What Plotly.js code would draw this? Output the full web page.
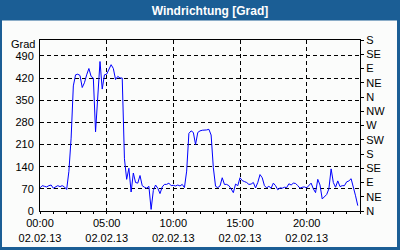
<!DOCTYPE html>
<html>
<head>
<meta charset="utf-8">
<script src="https://cdn.plot.ly/plotly-3.0.1.min.js"></script>
<style>html,body{margin:0;padding:0;background:#1b5e95;}#chart{width:400px;height:250px;}</style>
</head>
<body>
<div id="chart"></div>
<script>
// Wind direction (degrees), 10-minute samples from 02.02.13 00:00
const startTime = '2013-02-02 00:00';
const stepMinutes = 10;
const windDirection = [
  73, 80, 78, 76, 80, 82, 72, 76, 80, 77, 80, 76, 68, 125, 230, 395, 430, 432, 428, 390,
  405, 430, 450, 425, 420, 250, 350, 472, 385, 430, 432, 450, 462, 450, 415, 425, 420, 420, 165, 100,
  135, 60, 120, 90, 88, 112, 80, 75, 72, 78, 5, 65, 82, 72, 55, 76, 84, 84, 88, 80,
  81, 79, 82, 79, 84, 74, 126, 245, 253, 248, 210, 248, 253, 255, 255, 256, 258, 240, 137, 78,
  74, 79, 105, 84, 84, 80, 70, 58, 85, 80, 105, 96, 93, 90, 84, 85, 90, 73, 90, 115,
  105, 80, 73, 78, 72, 88, 80, 67, 73, 72, 75, 74, 86, 82, 88, 87, 80, 72, 75, 76,
  73, 82, 88, 70, 58, 100, 82, 38, 45, 52, 70, 133, 90, 75, 95, 77, 80, 80, 92, 95,
  102, 70, 48, 17
];
const xTickVals = ['2013-02-02 00:00', '2013-02-02 05:00', '2013-02-02 10:00', '2013-02-02 15:00', '2013-02-02 20:00'];
const xTickText = ['00:00<br>02.02.13', '05:00<br>02.02.13', '10:00<br>02.02.13', '15:00<br>02.02.13', '20:00<br>02.02.13'];
const yTickVals = [0, 70, 140, 210, 280, 350, 420, 490];
const compassVals = [0, 45, 90, 135, 180, 225, 270, 315, 360, 405, 450, 495, 540];
const compassText = ['N', 'NE', 'E', 'SE', 'S', 'SW', 'W', 'NW', 'N', 'NE', 'E', 'SE', 'S'];

function pad(n) { return (n < 10 ? '0' : '') + n; }
const t0 = new Date(startTime.replace(' ', 'T') + ':00Z').getTime();
const times = windDirection.map((_, i) => {
  const d = new Date(t0 + i * stepMinutes * 60000);
  return d.getUTCFullYear() + '-' + pad(d.getUTCMonth() + 1) + '-' + pad(d.getUTCDate()) + ' ' + pad(d.getUTCHours()) + ':' + pad(d.getUTCMinutes());
});

const bg = '#fbfcfb';
const font = {family: 'Liberation Sans, Arial, sans-serif', size: 11, color: '#000'};

const data = [{
  x: times, y: windDirection, type: 'scatter', mode: 'lines',
  line: {color: '#0000ff', width: 1}, hoverinfo: 'skip', showlegend: false
}, {
  // same series on the compass (right) axis so that axis is drawn; invisible line
  x: times, y: windDirection, type: 'scatter', mode: 'lines', yaxis: 'y2',
  line: {color: 'rgba(0,0,0,0)', width: 0}, hoverinfo: 'skip', showlegend: false
}];

const layout = {
  width: 400, height: 250,
  margin: {l: 40, r: 40, t: 40, b: 39, pad: 0},
  paper_bgcolor: '#1b5e95', plot_bgcolor: bg,
  font: font,
  showlegend: false,
  title: {
    text: '<b>Windrichtung [Grad]</b>',
    font: {family: 'Liberation Sans, Arial, sans-serif', size: 12, color: '#ffffff'},
    xref: 'container', x: 0.525, xanchor: 'center',
    yref: 'container', y: 0.958, yanchor: 'middle'
  },
  xaxis: {
    type: 'date', range: ['2013-02-02 00:00', '2013-02-03 00:00'],
    tickmode: 'array', tickvals: xTickVals, ticktext: xTickText,
    ticks: 'outside', ticklen: 2, tickcolor: '#000', tickfont: font,
    showline: true, linecolor: '#000', linewidth: 1, mirror: true,
    showgrid: true, gridcolor: '#000', gridwidth: 1, griddash: '4px,3px',
    zeroline: false, fixedrange: true,
    minor: {tick0: '2013-02-02 00:00', dtick: 3600000, ticks: 'outside', ticklen: 2, tickcolor: '#000', showgrid: false}
  },
  yaxis: {
    range: [0, 540], tickmode: 'array', tickvals: yTickVals,
    ticks: '', tickfont: font, ticklabelstandoff: 3,
    showline: true, linecolor: '#000', linewidth: 1,
    showgrid: true, gridcolor: '#000', gridwidth: 1, griddash: '4px,3px',
    zeroline: false, fixedrange: true
  },
  yaxis2: {
    overlaying: 'y', side: 'right', range: [0, 540],
    tickmode: 'array', tickvals: compassVals, ticktext: compassText,
    ticks: 'outside', ticklen: 3, tickcolor: '#000', tickfont: font,
    showline: true, linecolor: '#000', linewidth: 1,
    showgrid: false, zeroline: false, fixedrange: true
  },
  shapes: [{
    type: 'rect', xref: 'paper', yref: 'paper', layer: 'below',
    x0: (2 - 40) / 320, x1: (397 - 40) / 320,
    y0: (211 - 247) / 171, y1: (211 - 20.5) / 171,
    fillcolor: bg, line: {width: 0}
  }],
  annotations: [{
    text: 'Grad', xref: 'paper', yref: 'paper', x: 0, xshift: -3, xanchor: 'right',
    y: (211 - 44.5) / 171, yanchor: 'middle', showarrow: false, font: font
  }]
};

Plotly.newPlot('chart', data, layout, {staticPlot: true, displayModeBar: false});
</script>
</body>
</html>
